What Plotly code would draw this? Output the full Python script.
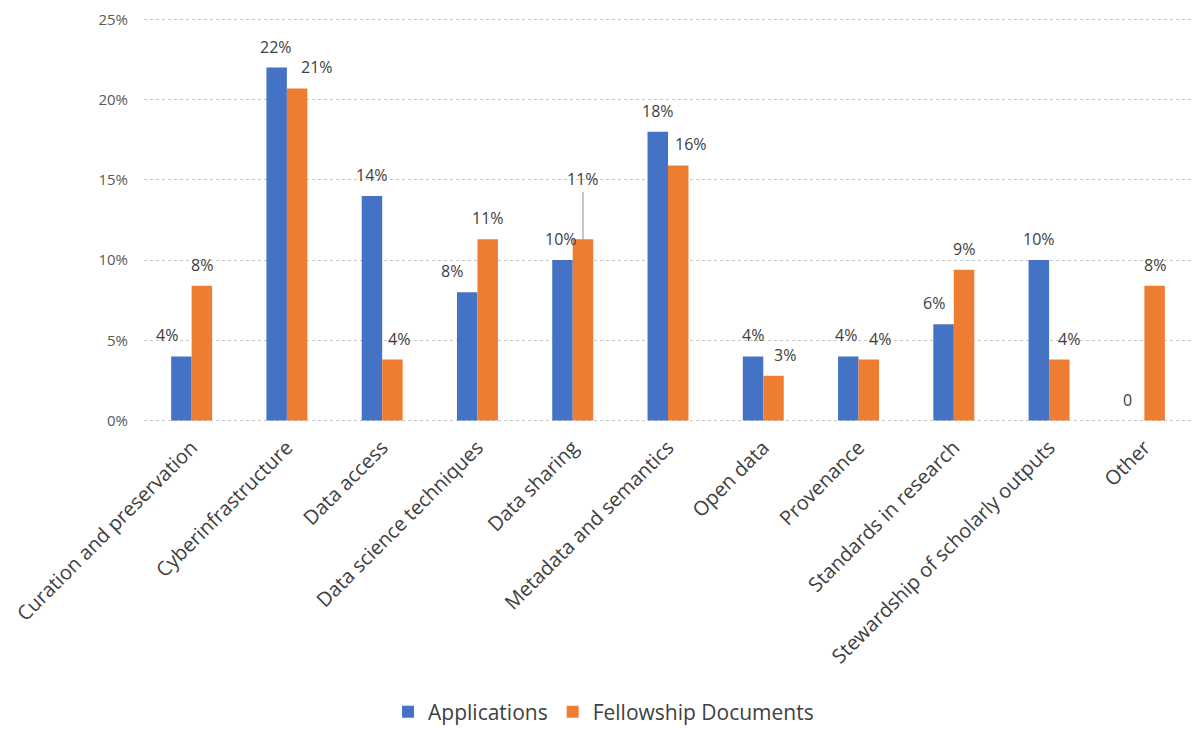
import plotly.graph_objects as go

categories = ["Curation and preservation", "Cyberinfrastructure", "Data access",
              "Data science techniques", "Data sharing", "Metadata and semantics",
              "Open data", "Provenance", "Standards in research",
              "Stewardship of scholarly outputs", "Other"]
applications = [4.0, 22.0, 14.0, 8.0, 10.0, 18.0, 4.0, 4.0, 6.0, 10.0, 0.0]
fellowship = [8.4, 20.7, 3.8, 11.3, 11.3, 15.9, 2.8, 3.8, 9.4, 3.8, 8.4]
y_ticks = [0, 5, 10, 15, 20, 25]
y_tick_labels = [f"{v}%" for v in y_ticks]


def lab(v):
    return f"{round(v)}%" if v else "0"


app_text = [lab(v) for v in applications]
fel_text = [lab(v) for v in fellowship]

# ---- styling / label placement (pixel nudges, not data) ----
BLUE = "#4472C4"
ORANGE = "#ED7D31"
FONT = "Open Sans"
LABEL_COLOR = "#404040"
BAR_HALF = 10.25  # px offset of each bar center from category center
app_nudge = [-14, -1, 0, -15, -1, 0, 0, -2, -10, 0, -7]
fel_nudge = [0, 20, 7, 0, 0, 13, 11, 11, 0, 10, 0]
LEADER_CAT = "Data sharing"

W, H = 1184, 718  # page has an 8px body margin

fig = go.Figure()
fig.add_trace(go.Bar(x=categories, y=applications, name="Applications",
                     marker=dict(color=BLUE, line=dict(width=0))))
fig.add_trace(go.Bar(x=categories, y=fellowship, name="Fellowship Documents",
                     marker=dict(color=ORANGE, line=dict(width=0))))

lab_font = dict(size=16, color=LABEL_COLOR, family=FONT)
for i, c in enumerate(categories):
    fig.add_annotation(x=c, y=applications[i], text=app_text[i], showarrow=False,
                       xshift=-BAR_HALF + app_nudge[i], yshift=8, yanchor="bottom",
                       font=lab_font)
    if c == LEADER_CAT:
        fig.add_annotation(x=c, y=fellowship[i], text=fel_text[i], showarrow=True,
                           arrowhead=0, arrowwidth=1, arrowcolor="#8C8C8C",
                           ax=0, ay=-60, xshift=BAR_HALF, font=lab_font)
    else:
        fig.add_annotation(x=c, y=fellowship[i], text=fel_text[i], showarrow=False,
                           xshift=BAR_HALF + fel_nudge[i], yshift=8, yanchor="bottom",
                           font=lab_font)

fig.update_layout(
    width=W, height=H,
    margin=dict(l=136, r=0, t=9, b=303, autoexpand=False),
    paper_bgcolor="white", plot_bgcolor="white",
    barmode="group", bargap=0.57, bargroupgap=0,
    font=dict(family=FONT, color="#595959"),
    showlegend=True,
    legend=dict(orientation="h", xref="container", yref="container",
                x=0.503, xanchor="center", y=0.0195, yanchor="middle",
                font=dict(size=21, color=LABEL_COLOR, family=FONT),
                traceorder="normal", itemwidth=30),
)
fig.update_xaxes(
    tickangle=-45, tickfont=dict(size=20, color=LABEL_COLOR, family=FONT),
    showline=False, ticks="", showgrid=False, automargin=False,
    ticklabelstandoff=8, ticklabeloverflow="allow",
)
fig.update_yaxes(
    range=[-0.15, 25.15], tickmode="array", tickvals=y_ticks, ticktext=y_tick_labels,
    tickfont=dict(size=15, color="#595959", family=FONT),
    showgrid=True, gridcolor="#C8C8C8", griddash="dot", gridwidth=1,
    zeroline=False, showline=False, ticks="", ticklabelstandoff=15,
    automargin=False, ticklabeloverflow="allow",
)

fig.write_html("out.html")
